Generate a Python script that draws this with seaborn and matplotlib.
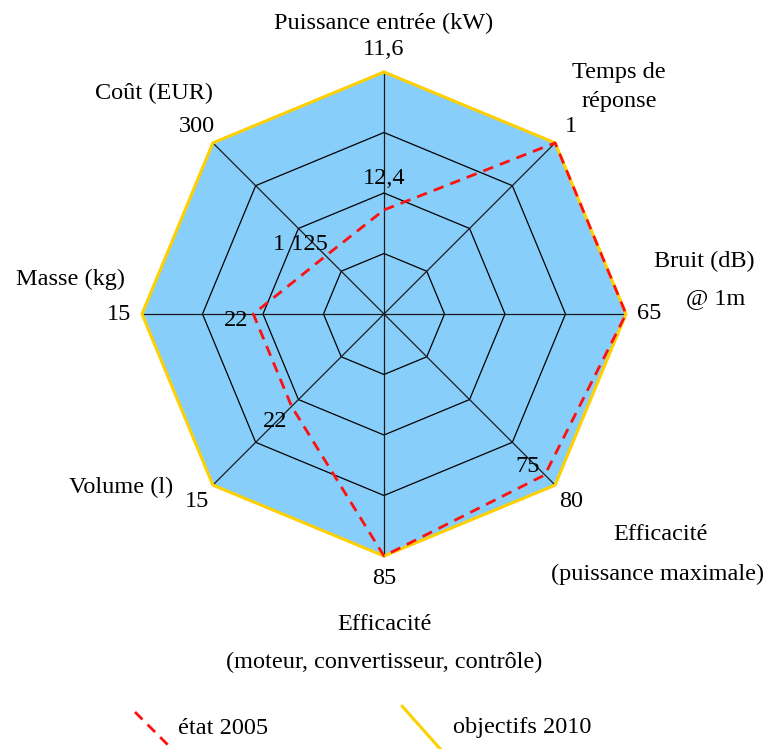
import numpy as np
import pandas as pd
import matplotlib
matplotlib.use("Agg")
import matplotlib.pyplot as plt
import seaborn as sns
from matplotlib.lines import Line2D

# Radar axes, clockwise from the top
axis_keys = ["puissance", "temps", "bruit", "eff_max", "eff_moteur", "volume", "masse", "cout"]
target_labels = ["11,6", "1", "65", "80", "85", "15", "15", "300"]
target_scores = [1.0, 1.0, 1.0, 1.0, 1.0, 1.0, 1.0, 1.0]
state_labels = ["12,4", "1", "65", "75", "85", "22", "22", "1 125"]
state_scores = [0.43, 1.0, 1.0, 0.94, 1.0, 0.54, 0.54, 0.34]
grid_levels = [0.25, 0.5, 0.75, 1.0]
series_names = ["état 2005", "objectifs 2010"]

# Axis titles (one entry per printed line)
title_lines = [
    "Puissance entrée (kW)",
    "Temps de", "réponse",
    "Bruit (dB)", "@ 1m",
    "Efficacité", "(puissance maximale)",
    "Efficacité", "(moteur, convertisseur, contrôle)",
    "Volume (l)",
    "Masse (kg)",
    "Coût (EUR)",
]

# ---- layout -------------------------------------------------------------
W, H, DPI = 776, 749, 100
CX, CY, R = 384, 314, 242          # centre and outer radius in pixels

def px(x, y):
    """Pixel position -> data coordinates (unit = outer radius)."""
    return (x - CX) / R, (CY - y) / R

title_pos = [(384, 23), (619, 73), (619, 101), (704, 261), (716, 299),
             (660, 534), (658, 574), (384, 624), (384, 662),
             (121, 487), (70, 279), (154, 93)]
state_label_pos = {0: (384, 179), 3: (528, 467), 5: (275, 422),
                   6: (236, 321), 7: (300, 245)}

sns.set_theme(style="white")
plt.rcParams["font.family"] = ["Liberation Serif", "DejaVu Serif"]
plt.rcParams["text.color"] = "black"
FS = 17.5
RED_DASH = (0, (3.8, 2.6))

fig = plt.figure(figsize=(W / DPI, H / DPI), dpi=DPI)
ax = fig.add_axes([0, 0, 1, 1])
x0, y1 = px(0, 0)
x1, y0 = px(W, H)
ax.set_xlim(x0, x1)
ax.set_ylim(y0, y1)
ax.axis("off")

n = len(axis_keys)
angles = np.arange(n) * 2 * np.pi / n


def polygon(scores):
    s = np.asarray(scores, dtype=float)
    xs = s * np.sin(angles)
    ys = s * np.cos(angles)
    return np.append(xs, xs[0]), np.append(ys, ys[0])


# filled target area
tx, ty = polygon(target_scores)
ax.fill(tx, ty, color="#87CEFA", zorder=1, lw=0)

# octagonal grid and spokes
for lvl in grid_levels[:-1]:
    gx, gy = polygon([lvl] * n)
    ax.plot(gx, gy, color="black", lw=0.9, zorder=2)
for a in angles:
    ax.plot([0, np.sin(a)], [0, np.cos(a)], color="#1a1a1a", lw=0.9, zorder=2)

# data series
df_target = pd.DataFrame({"x": tx, "y": ty, "serie": series_names[1]})
sx, sy = polygon(state_scores)
df_state = pd.DataFrame({"x": sx, "y": sy, "serie": series_names[0]})

sns.lineplot(data=df_target, x="x", y="y", sort=False, estimator=None,
             color="#FFD000", lw=2.2, ax=ax, zorder=3, legend=False)
sns.lineplot(data=df_state, x="x", y="y", sort=False, estimator=None,
             color="#FF1010", lw=2.0, linestyle=RED_DASH, ax=ax,
             zorder=4, legend=False)

# outer value labels (targets)
for a, lab, s in zip(angles, target_labels, target_scores):
    r = s * 1.095
    ax.text(r * np.sin(a), r * np.cos(a), lab, ha="center", va="center",
            fontsize=FS, zorder=5)

# inner value labels (state) where they differ from the outer ring
for i, lab in enumerate(state_labels):
    if state_scores[i] < 1.0 and i in state_label_pos:
        ax.text(*px(*state_label_pos[i]), lab, ha="center", va="center",
                fontsize=FS, zorder=5)

# axis titles
for txt, pos in zip(title_lines, title_pos):
    ax.text(*px(*pos), txt, ha="center", va="center", fontsize=FS, zorder=5)

# legend: diagonal line samples with text
ax.add_line(Line2D([px(135, 712)[0], px(175, 752)[0]],
                   [px(135, 712)[1], px(175, 752)[1]],
                   color="#FF1010", lw=2.0, linestyle=RED_DASH,
                   clip_on=False))
ax.text(*px(178, 728), series_names[0], ha="left", va="center", fontsize=FS)
ax.add_line(Line2D([px(402, 706)[0], px(443, 752)[0]],
                   [px(402, 706)[1], px(443, 752)[1]],
                   color="#FFD000", lw=2.2, clip_on=False))
ax.text(*px(453, 728), series_names[1], ha="left", va="center", fontsize=FS)

fig.savefig("out.png", dpi=DPI)
